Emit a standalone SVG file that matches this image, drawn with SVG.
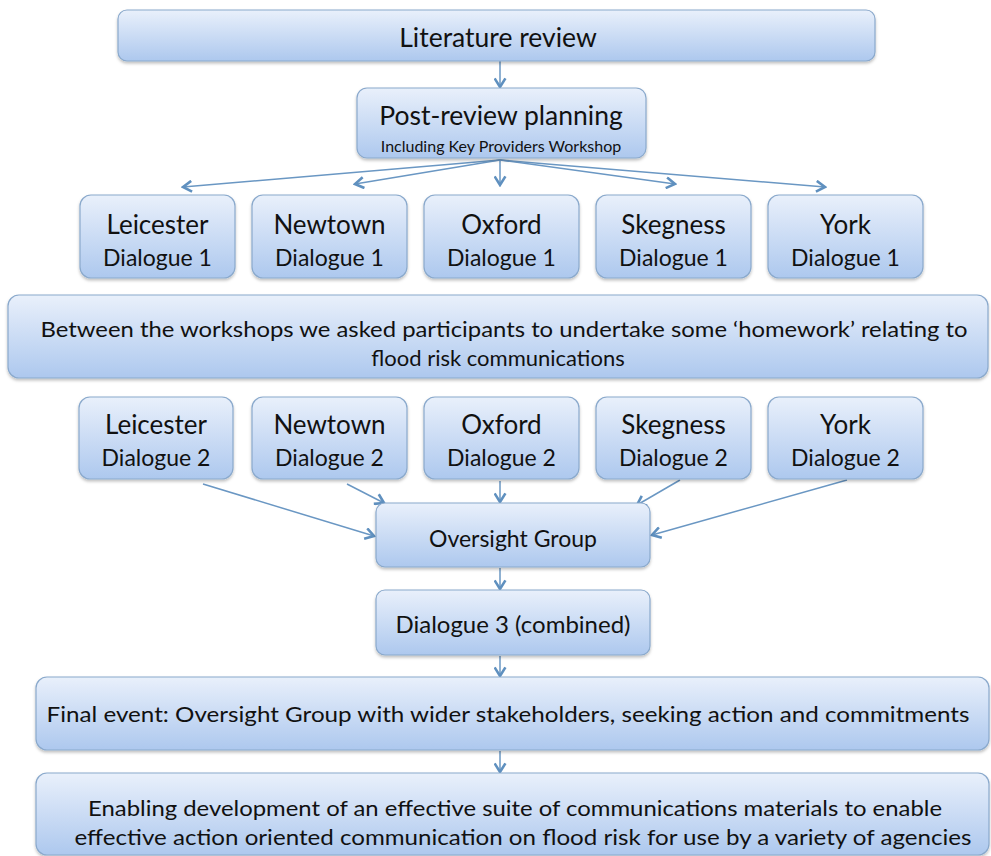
<svg xmlns="http://www.w3.org/2000/svg" width="991" height="856" viewBox="0 0 991 856">
<defs>
<linearGradient id="g" x1="0" y1="0" x2="0" y2="1">
<stop offset="0" stop-color="#e9f0fb"/>
<stop offset="1" stop-color="#adc8ee"/>
</linearGradient>
<filter id="sh" x="-5%" y="-10%" width="110%" height="130%">
<feDropShadow dx="0" dy="2" stdDeviation="1.5" flood-color="#000" flood-opacity="0.25"/>
</filter>
<marker id="ah" viewBox="0 0 12 12" refX="10" refY="6" markerWidth="13" markerHeight="13" markerUnits="userSpaceOnUse" orient="auto">
<path d="M2,1 L10,6 L2,11" fill="none" stroke="#5f90bf" stroke-width="2.4" stroke-linejoin="miter"/>
</marker>
</defs>
<style>
.b{fill:url(#g);stroke:#8aa9cc;stroke-width:1.2;filter:url(#sh)}
.t{font-family:Lato,"Open Sans","Liberation Sans",sans-serif;fill:#111;text-anchor:middle}
.c{fill:none;stroke:#6a97c3;stroke-width:1.5;marker-end:url(#ah)}
.n{font-size:26px}
.d{font-size:23px}
</style>
<rect width="991" height="856" fill="#fff"/>
<g id="connectors">
<line class="c" x1="500" y1="61" x2="500" y2="87"/>
<line class="c" x1="500" y1="160" x2="183" y2="187"/>
<line class="c" x1="500" y1="160" x2="355" y2="184"/>
<line class="c" x1="500" y1="160" x2="500" y2="185"/>
<line class="c" x1="500" y1="160" x2="675" y2="184"/>
<line class="c" x1="500" y1="160" x2="825" y2="187"/>
<line class="c" x1="203" y1="484" x2="374" y2="536"/>
<line class="c" x1="347" y1="484" x2="384" y2="503"/>
<line class="c" x1="500" y1="481" x2="500" y2="502"/>
<line class="c" x1="680" y1="480" x2="637" y2="505"/>
<line class="c" x1="847" y1="480" x2="652" y2="535"/>
<line class="c" x1="500" y1="568" x2="500" y2="589"/>
<line class="c" x1="500" y1="656" x2="500" y2="676"/>
<line class="c" x1="500" y1="751" x2="500" y2="772"/>
</g>
<g id="lit"><rect class="b" x="118" y="10" width="757" height="51" rx="9"/><text class="t" x="498" y="47" font-size="26.5">Literature review</text></g>
<g id="post"><rect class="b" x="357" y="88" width="289" height="70" rx="10"/><text class="t" x="501" y="125" font-size="26.5">Post-review planning</text><text class="t" x="501" y="152" font-size="16">Including Key Providers Workshop</text></g>
<g id="leicester1"><rect class="b" x="80" y="195" width="155" height="83" rx="11"/><text class="t n" x="157.5" y="234">Leicester</text><text class="t d" x="157.5" y="266">Dialogue 1</text></g>
<g id="newtown1"><rect class="b" x="252" y="195" width="155" height="83" rx="11"/><text class="t n" x="329.5" y="234">Newtown</text><text class="t d" x="329.5" y="266">Dialogue 1</text></g>
<g id="oxford1"><rect class="b" x="424" y="195" width="155" height="83" rx="11"/><text class="t n" x="501.5" y="234">Oxford</text><text class="t d" x="501.5" y="266">Dialogue 1</text></g>
<g id="skegness1"><rect class="b" x="596" y="195" width="155" height="83" rx="11"/><text class="t n" x="673.5" y="234">Skegness</text><text class="t d" x="673.5" y="266">Dialogue 1</text></g>
<g id="york1"><rect class="b" x="768" y="195" width="155" height="83" rx="11"/><text class="t n" x="845.5" y="234">York</text><text class="t d" x="845.5" y="266">Dialogue 1</text></g>
<g id="homework"><rect class="b" x="8" y="295" width="980" height="83" rx="11"/><text class="t" x="504" y="337" font-size="22" textLength="927" lengthAdjust="spacingAndGlyphs">Between the workshops we asked participants to undertake some ‘homework’ relating to</text><text class="t" x="498" y="366" font-size="22">flood risk communications</text></g>
<g id="leicester2"><rect class="b" x="79" y="397" width="154" height="82" rx="11"/><text class="t n" x="156" y="434">Leicester</text><text class="t d" x="156" y="466">Dialogue 2</text></g>
<g id="newtown2"><rect class="b" x="252" y="397" width="155" height="82" rx="11"/><text class="t n" x="329.5" y="434">Newtown</text><text class="t d" x="329.5" y="466">Dialogue 2</text></g>
<g id="oxford2"><rect class="b" x="424" y="397" width="155" height="82" rx="11"/><text class="t n" x="501.5" y="434">Oxford</text><text class="t d" x="501.5" y="466">Dialogue 2</text></g>
<g id="skegness2"><rect class="b" x="596" y="397" width="155" height="82" rx="11"/><text class="t n" x="673.5" y="434">Skegness</text><text class="t d" x="673.5" y="466">Dialogue 2</text></g>
<g id="york2"><rect class="b" x="768" y="397" width="155" height="82" rx="11"/><text class="t n" x="845.5" y="434">York</text><text class="t d" x="845.5" y="466">Dialogue 2</text></g>
<g id="oversight"><rect class="b" x="376" y="503" width="274" height="64" rx="9"/><text class="t" x="513" y="547" font-size="23">Oversight Group</text></g>
<g id="dialogue3"><rect class="b" x="376" y="590" width="274" height="65" rx="9"/><text class="t" x="513" y="633" font-size="24">Dialogue 3 (combined)</text></g>
<g id="final"><rect class="b" x="36" y="677" width="953" height="73" rx="11"/><text class="t" x="508" y="722" font-size="22" textLength="923" lengthAdjust="spacingAndGlyphs">Final event: Oversight Group with wider stakeholders, seeking action and commitments</text></g>
<g id="enabling"><rect class="b" x="36" y="773" width="953" height="82" rx="11"/><text class="t" x="515" y="816" font-size="22" textLength="854" lengthAdjust="spacingAndGlyphs">Enabling development of an effective suite of communications materials to enable</text><text class="t" x="523" y="845" font-size="22" textLength="897" lengthAdjust="spacingAndGlyphs">effective action oriented communication on flood risk for use by a variety of agencies</text></g>
</svg>
